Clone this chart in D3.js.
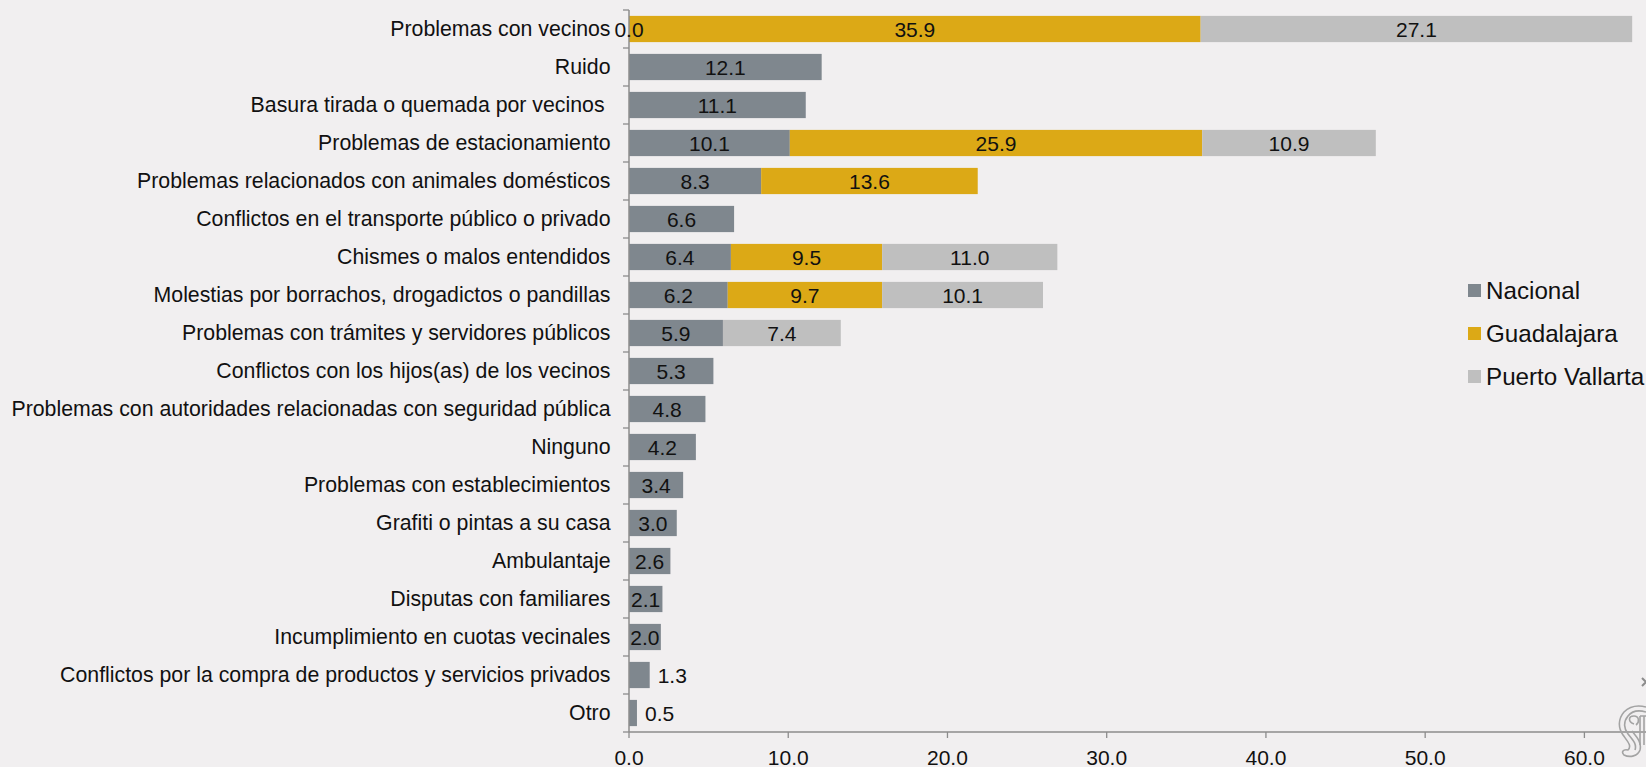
<!DOCTYPE html>
<html><head><meta charset="utf-8">
<script src="https://cdn.jsdelivr.net/npm/d3@7"></script>
<style>html,body{margin:0;padding:0;background:#f1eff0;overflow:hidden}svg{display:block}text{font-family:"Liberation Sans",Arial,sans-serif;fill:#111}</style>
</head><body><svg id="c" width="1646" height="767"></svg>
<script>
const categories=["Problemas con vecinos","Ruido","Basura tirada o quemada por vecinos ","Problemas de estacionamiento","Problemas relacionados con animales domésticos","Conflictos en el transporte público o privado","Chismes o malos entendidos","Molestias por borrachos, drogadictos o pandillas","Problemas con trámites y servidores públicos","Conflictos con los hijos(as) de los vecinos","Problemas con autoridades relacionadas con seguridad pública","Ninguno","Problemas con establecimientos","Grafiti o pintas a su casa","Ambulantaje","Disputas con familiares","Incumplimiento en cuotas vecinales","Conflictos por la compra de productos y servicios privados","Otro"];
const nacional=[0.0,12.1,11.1,10.1,8.3,6.6,6.4,6.2,5.9,5.3,4.8,4.2,3.4,3.0,2.6,2.1,2.0,1.3,0.5];
const guadalajara=[35.9,null,null,25.9,13.6,null,9.5,9.7,null,null,null,null,null,null,null,null,null,null,null];
const puertoVallarta=[27.1,null,null,10.9,null,null,11.0,10.1,7.4,null,null,null,null,null,null,null,null,null,null];
const seriesNames=["Nacional","Guadalajara","Puerto Vallarta"];
const seriesColors=["#7f878e","#dca916","#bfbfbf"];
const xTicks=[0,10,20,30,40,50,60];
const seriesValues=[nacional,guadalajara,puertoVallarta];

const svg=d3.select("#c");
const x=d3.scaleLinear().domain([0,60]).range([629,1584.4]);
const y=d3.scaleBand().domain(categories).range([10,732]).paddingInner(0.31).paddingOuter(0.155);

categories.forEach((c,i)=>{
  let acc=0;
  seriesValues.forEach((s,k)=>{
    const v=s[i];
    if(v===null)return;
    const x0=x(acc),x1=x(acc+v);
    svg.append("rect").attr("x",x0).attr("y",y(c)).attr("width",x1-x0).attr("height",y.bandwidth()).attr("fill",seriesColors[k]);
    acc+=v;
  });
});
// axes
const axisColor="#8c8c8c";
const yAxis=svg.append("g").attr("transform","translate(629,0)");
yAxis.append("line").attr("y1",10).attr("y2",732).attr("stroke",axisColor).attr("stroke-width",1.5);
const step=y.step();
d3.range(categories.length+1).forEach(i=>{
  const yy=y.range()[0]+i*step;
  yAxis.append("line").attr("x1",-6).attr("x2",0).attr("y1",yy).attr("y2",yy).attr("stroke",axisColor).attr("stroke-width",1.3);
});
categories.forEach(c=>{
  svg.append("text").attr("x",610.5).attr("y",y(c)+y.bandwidth()/2+7).attr("text-anchor","end").attr("xml:space","preserve").style("font-size","21.3px").text(c);
});
const xAxis=svg.append("g");
xAxis.append("line").attr("x1",629).attr("x2",1646).attr("y1",732).attr("y2",732).attr("stroke",axisColor).attr("stroke-width",1.3);
xTicks.forEach(t=>{
  xAxis.append("line").attr("x1",x(t)).attr("x2",x(t)).attr("y1",732).attr("y2",738).attr("stroke",axisColor).attr("stroke-width",1.3);
  xAxis.append("text").attr("x",x(t)).attr("y",765).attr("text-anchor","middle").style("font-size","21px").text(t.toFixed(1));
});
// data labels
categories.forEach((c,i)=>{
  let acc=0;
  seriesValues.forEach((s,k)=>{
    const v=s[i];
    if(v===null)return;
    const outside=k===0&&v<1.5&&v>0;
    const lx=outside?x(acc+v)+8:x(acc+v/2);
    svg.append("text").attr("x",lx).attr("y",y(c)+y.bandwidth()/2+8).attr("text-anchor",outside?"start":"middle").style("font-size","21px").text(v.toFixed(1));
    acc+=v;
  });
});
// legend
seriesNames.forEach((n,k)=>{
  const yy=284+k*43;
  svg.append("rect").attr("x",1468).attr("y",yy).attr("width",13).attr("height",13).attr("fill",seriesColors[k]);
  svg.append("text").attr("x",1486).attr("y",yy+15).style("font-size","24.2px").text(n);
});
// watermark ornament, lower right corner
const logo=svg.append("g").attr("fill","none").attr("stroke","#a3a3a3").attr("stroke-width",1.6);
["M1646,707 C1638,705 1630,706 1624,712 C1618,719 1618,728 1623,735 C1628,742 1632,746 1628,750 C1623,749 1621,752 1624,755 C1630,758 1638,756 1640,750 C1642,742 1636,736 1632,731",
 "M1646,712 C1639,710 1632,711 1628,716 C1623,722 1624,729 1628,734 C1633,740 1637,744 1635,750",
 "M1634,724 C1628,722 1628,716 1634,716 C1639,716 1640,722 1636,725",
 "M1640,716 L1640,745 M1644,716 L1644,745 M1640,716 L1646,716"
].forEach(d=>logo.append("path").attr("d",d));
svg.append("path").attr("d","M1642,678 L1646,682 M1642,686 L1646,682").attr("fill","none").attr("stroke","#8c8c8c").attr("stroke-width",2);
</script></body></html>
